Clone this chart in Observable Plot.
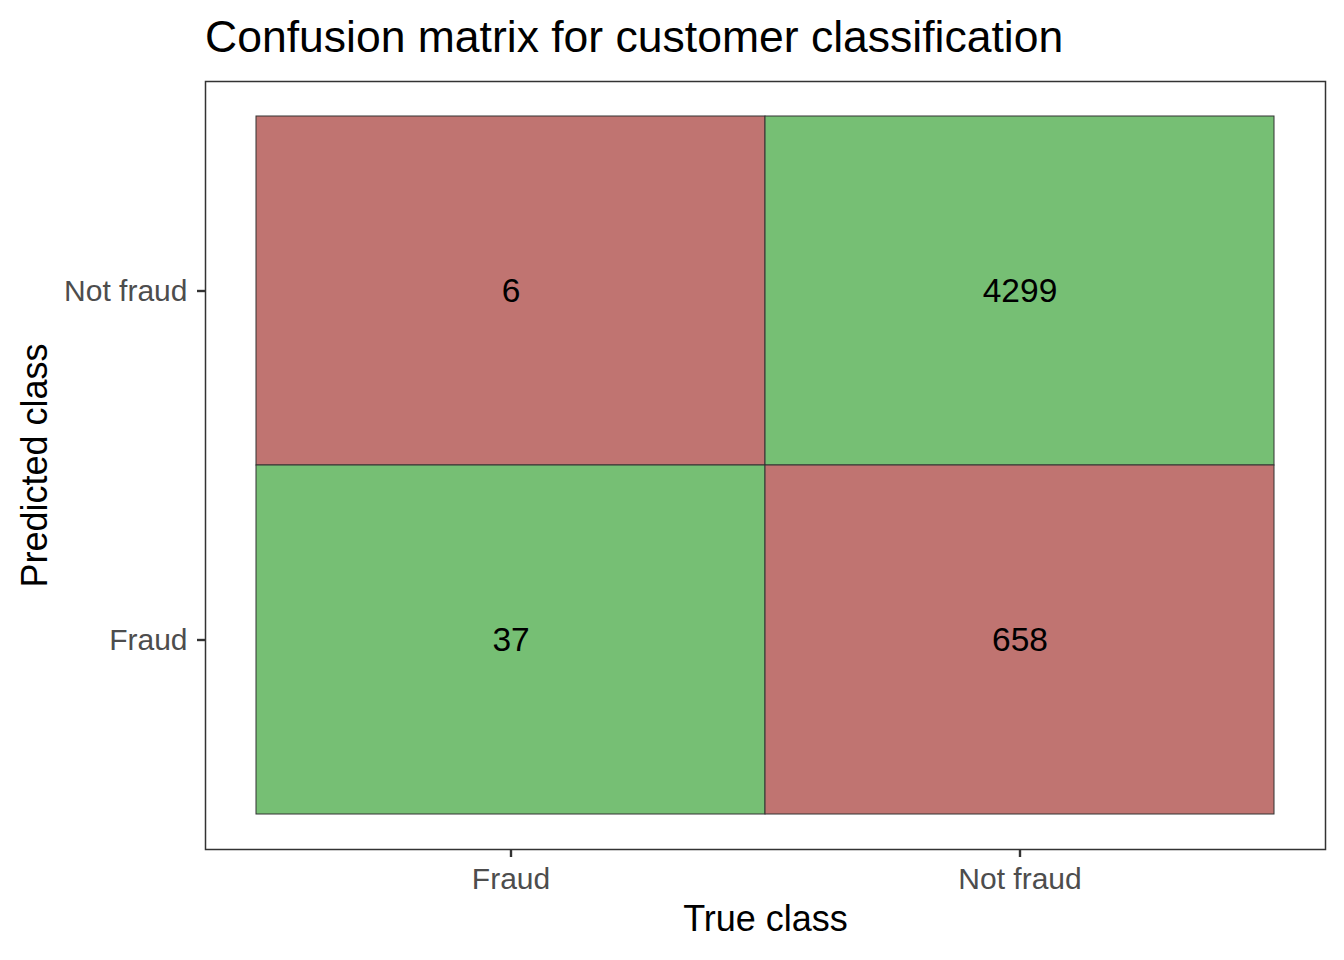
<!DOCTYPE html>
<html>
<head>
<meta charset="utf-8">
<script src="https://cdn.jsdelivr.net/npm/d3@7"></script>
<script src="https://cdn.jsdelivr.net/npm/@observablehq/plot@0.6"></script>
<style>
  html, body { margin: 0; padding: 0; background: #fff; }
  #wrap { position: relative; width: 1344px; height: 960px; font-family: "Liberation Sans", Arial, sans-serif; }
  #title { position: absolute; left: 205px; top: 15px; font-size: 44.5px; line-height: 44px; color: #000; white-space: nowrap; }
  #chart { position: absolute; left: 0; top: 70px; }
</style>
</head>
<body>
<div id="wrap">
  <div id="title">Confusion matrix for customer classification</div>
  <div id="chart"></div>
</div>
<script>
const classes = ["Fraud", "Not fraud"];
const trueClass = ["Fraud", "Not fraud", "Fraud", "Not fraud"];
const predictedClass = ["Not fraud", "Not fraud", "Fraud", "Fraud"];
const counts = [6, 4299, 37, 658];
const outcome = ["wrong", "right", "right", "wrong"];
const outcomeColors = ["#76BF74", "#C07471"];

const cells = counts.map((n, i) => ({
  truth: trueClass[i],
  predicted: predictedClass[i],
  n,
  outcome: outcome[i]
}));

const W = 1344, H = 890;
const font = "Liberation Sans, Arial, sans-serif";

const plot = Plot.plot({
  width: W,
  height: H,
  marginLeft: 205,
  marginRight: 19,
  marginTop: 11,
  marginBottom: 111,
  style: { fontFamily: font, background: "white" },
  x: { type: "band", domain: classes, paddingInner: 0, paddingOuter: 0.1, axis: null },
  y: { type: "band", domain: [...classes].reverse(), paddingInner: 0, paddingOuter: 0.1, axis: null },
  color: { domain: ["right", "wrong"], range: outcomeColors },
  marks: [
    Plot.cell(cells, { x: "truth", y: "predicted", fill: "outcome", stroke: "#333333", strokeWidth: 1 }),
    Plot.text(cells, { x: "truth", y: "predicted", text: d => String(d.n), fontSize: 33.5, fill: "#000" }),
    Plot.frame({ stroke: "#333333", strokeWidth: 1.5 }),
    Plot.axisX({ anchor: "bottom", label: null, tickSize: 8, tickPadding: 10, fontSize: 30, color: "#4D4D4D", stroke: "#333333", strokeWidth: 2.2 }),
    Plot.axisY({ anchor: "left", label: null, tickSize: 8, tickPadding: 10, fontSize: 30, color: "#4D4D4D", stroke: "#333333", strokeWidth: 2.2 }),
    Plot.text(["True class"], { frameAnchor: "bottom", lineAnchor: "middle", textAnchor: "middle", dy: 70, fontSize: 36, fill: "#000" }),
    Plot.text(["Predicted class"], { frameAnchor: "left", lineAnchor: "middle", textAnchor: "middle", rotate: -90, dx: -170, fontSize: 36, fill: "#000" })
  ]
});

d3.select(plot)
  .selectAll('g[aria-label="x-axis tick"], g[aria-label="y-axis tick"], g[aria-label="x-axis tick"] path, g[aria-label="y-axis tick"] path')
  .attr("stroke", "#333333")
  .attr("stroke-width", 2.4)
  .attr("stroke-opacity", 1);

document.getElementById("chart").appendChild(plot);
</script>
</body>
</html>
